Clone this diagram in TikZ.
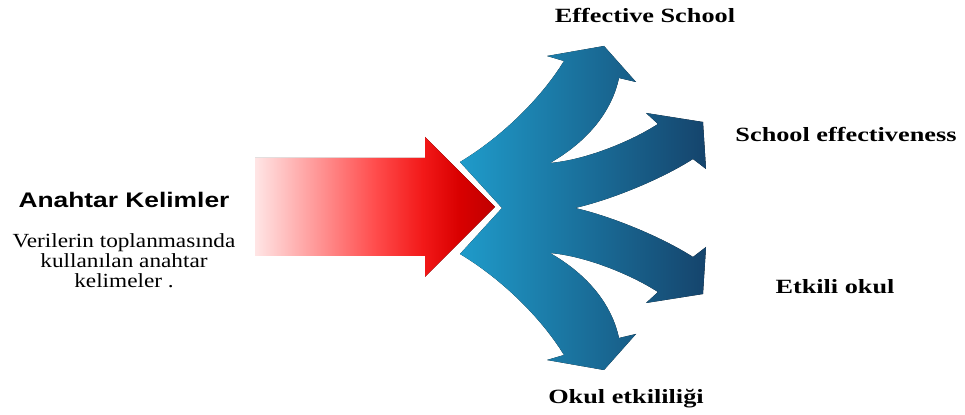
\documentclass[tikz,border=0pt]{standalone}
\usepackage{fontspec}
\newfontfamily\lblfont{Liberation Serif}[FakeStretch=1.3]
\newfontfamily\ttlfont{Liberation Sans}[FakeStretch=1.25]
\newfontfamily\dscfont{Liberation Serif}[FakeStretch=1.16]
\definecolor{bluel}{RGB}{31,155,202}
\definecolor{blued}{RGB}{21,68,108}
\pgfdeclarehorizontalshading{redfade}{100bp}{
	color(0bp)=(white);
	color(25bp)=(white!90!red);
	color(37.5bp)=(white!60!red);
	color(50bp)=(white!30!red);
	color(60bp)=(red!90!white!95!black);
	color(67.5bp)=(red!85!black);
	color(75bp)=(red!75!black);
	color(100bp)=(red!75!black)}

\begin{document}
\begin{tikzpicture}[
		x=0.02cm, y=-0.02cm,
		every node/.style = {
			inner sep=0cm, outer sep=0cm,
			anchor=base
		},
		outlbl/.style = {font=\lblfont\bfseries\fontsize{11.5}{13}\selectfont}
		]
		\useasboundingbox (0,0) rectangle (965,415);
		\fill[shading=redfade]
			(255,158) -- (425,158) -- (425,137) -- (495,207) -- (425,277) -- (425,256) -- (255,256) -- cycle;
		\fill[left color=bluel, right color=blued]
			(460,162) .. controls (500,138) and (540,100) .. (564,61)
			-- (547,56) -- (604,46) -- (636,82) -- (619,78)
			.. controls (612,110) and (590,140) .. (550,163)
			.. controls (585,160) and (630,142) .. (658,124)
			-- (646,113) -- (703,122) -- (706,169) -- (693,159)
			.. controls (660,180) and (610,200) .. (575,208)
			.. controls (610,216) and (660,236) .. (693,257)
			-- (706,247) -- (703,294) -- (646,303) -- (658,292)
			.. controls (630,274) and (585,256) .. (550,253)
			.. controls (590,276) and (612,306) .. (619,338)
			-- (636,334) -- (604,370) -- (547,360) -- (564,355)
			.. controls (540,316) and (500,278) .. (460,254)
			-- (502,208) -- cycle;
		\node (title) at (124,208) {\ttlfont\bfseries\fontsize{12}{14}\selectfont Anahtar Kelimler};
		\node [anchor=north, align=center, font=\dscfont\fontsize{11.4}{11.3}\selectfont] (desc) at (124,234)
			{Verilerin toplanmasında\\kullanılan anahtar\\kelimeler .};
		\node [outlbl] (eff) at (645,23) {Effective School};
		\node [outlbl] (sef) at (846,142) {School effectiveness};
		\node [outlbl] (etk) at (835,294) {Etkili okul};
		\node [outlbl] (oku) at (626,404) {Okul etkililiği};
	\end{tikzpicture}
\end{document}
